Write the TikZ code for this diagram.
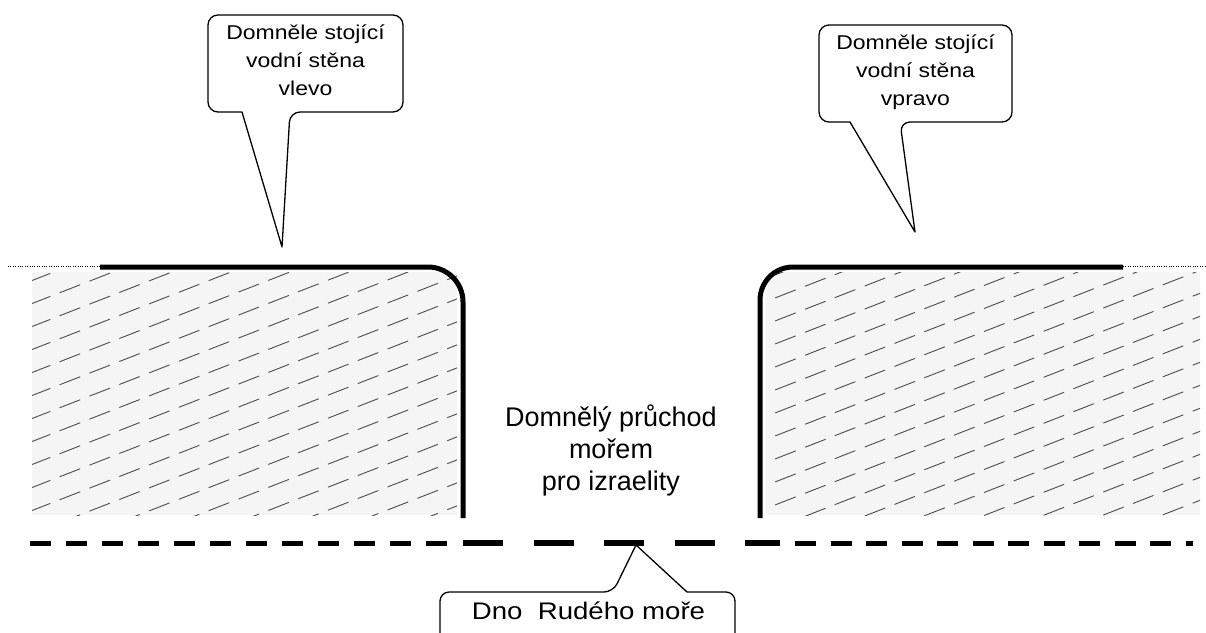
\documentclass[tikz,border=0pt]{standalone}
\usepackage{fontspec}
\setmainfont{Liberation Sans}
\newfontfamily\callfont[FakeStretch=1.15]{Liberation Sans}
\begin{document}
\begin{tikzpicture}[x=1pt,y=-1pt,
  wall/.style={line width=5pt},
  bubble/.style={line width=1.3pt, line join=round},
  hatch/.style={black!70, line width=0.9pt, dash pattern=on 22pt off 10pt},
  calltext/.style={align=center, font=\callfont\fontsize{20}{28}\selectfont, inner sep=0pt},
  midtext/.style={align=center, font=\fontsize{27}{32}\selectfont, inner sep=0pt}]
\useasboundingbox[fill=white] (0,0) rectangle (1206,632);

% hatched water, left
\begin{scope}
  \clip (32,272) rectangle (457,515);
  \fill[black!4] (32,272) rectangle (457,515);
  \foreach \i in {0,...,34} {
    \draw[hatch] (0,{270+\i*23}) -- (1206,{270+\i*23-470});
  }
\end{scope}
% hatched water, right
\begin{scope}
  \clip (766,272) rectangle (1200,515);
  \fill[black!4] (766,272) rectangle (1200,515);
  \foreach \i in {0,...,34} {
    \draw[hatch] (0,{270+\i*23+8}) -- (1206,{270+\i*23+8-470});
  }
\end{scope}

% water surface, dotted parts
\draw[dotted, thin] (8,266) -- (100,266);
\draw[dotted, thin] (1123,266) -- (1206,266);

% walls
\draw[wall, rounded corners=35pt] (100,267) -- (463,267) -- (463,518);
\draw[wall, rounded corners=33pt] (1123,267) -- (760,267) -- (760,518);

% sea floor
\draw[line width=5pt, dash pattern=on 21pt off 15pt] (30,543) -- (450,543);
\draw[line width=6.5pt, dash pattern=on 40pt off 30.5pt] (463,543) -- (780,543);
\draw[line width=5pt, dash pattern=on 21pt off 14.5pt] (795,543) -- (1193,543);

% callouts
\draw[bubble, rounded corners=10pt] (300,15) -- (403,15) -- (403,112) -- (290,112)
   [sharp corners] -- (282,247) -- (242,112) [rounded corners=10pt] -- (208,112) -- (208,15) -- cycle;
\node[calltext] (lt) at (305.5,60) {Domněle stojící\\vodní stěna\\vlevo};

\draw[bubble, rounded corners=10pt] (915,25) -- (1012,25) -- (1012,122) -- (900,122)
   [sharp corners] -- (915,232) -- (850,122) [rounded corners=10pt] -- (819,122) -- (819,25) -- cycle;
\node[calltext] (rt) at (915.5,72) {Domněle stojící\\vodní stěna\\vpravo};

\node[midtext] (mid) at (611,450) {Domnělý průchod\\mořem\\pro izraelity};

\draw[bubble, rounded corners=9pt] (440,640) -- (440,592) -- (613,592)
   [sharp corners] -- (636,545) -- (687,592) [rounded corners=9pt] -- (735,592) -- (735,640);
\node[font=\callfont\fontsize{24}{28}\selectfont, inner sep=0pt] (dno) at (588.5,611) {Dno\ \ Rudého moře};
\end{tikzpicture}
\end{document}
